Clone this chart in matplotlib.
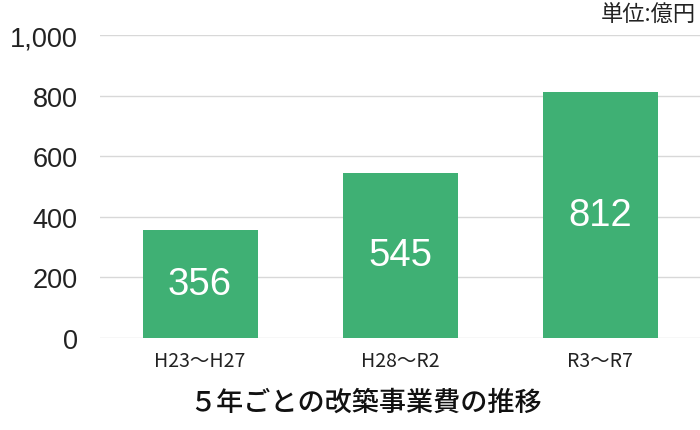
import matplotlib.pyplot as plt

# -------------------------
# DATA
# -------------------------
periods = ["H23～H27", "H28～R2", "R3～R7"]
costs = [356, 545, 812]
y_ticks = [0, 200, 400, 600, 800, 1000]
y_tick_labels = ["0", "200", "400", "600", "800", "1,000"]

bar_color = "#3fb074"
jp_font = ["Noto Sans CJK JP", "DejaVu Sans"]

# -------------------------
# PLOT
# -------------------------
fig = plt.figure(figsize=(7, 4.31), dpi=100)
ax = fig.add_axes([100 / 700, 92 / 431, 600 / 700, 303 / 431])

x = range(len(periods))
bars = ax.bar(x, costs, width=0.575, color=bar_color, zorder=3)

for b, v in zip(bars, costs):
    ax.text(b.get_x() + b.get_width() / 2, v / 2, str(v),
            ha="center", va="center", color="white",
            fontsize=27.5, family="Liberation Sans", zorder=4)

ax.set_xlim(-0.5, 2.5)
ax.set_ylim(0, 1000)
ax.set_yticks(y_ticks)
ax.set_yticklabels(y_tick_labels, family="Liberation Sans", fontsize=19.5, color="#222222")
ax.set_xticks(list(x))
ax.set_xticklabels(periods, family=jp_font, fontsize=14, color="#222222")
ax.tick_params(axis="both", length=0)
ax.tick_params(axis="y", pad=16)
ax.tick_params(axis="x", pad=9)

ax.grid(axis="y", color="#d8d8d8", linewidth=1, zorder=0)
for s in ax.spines.values():
    s.set_visible(False)

fig.text(696 / 700, 0.99, "単位:億円", ha="right", va="top",
         family=jp_font, fontsize=16, color="#222222")
fig.text(365 / 700, 0.065, "５年ごとの改築事業費の推移", ha="center", va="center",
         family=jp_font, fontsize=19.5, fontweight="medium", color="#111111")

fig.savefig("out.png", dpi=100)
